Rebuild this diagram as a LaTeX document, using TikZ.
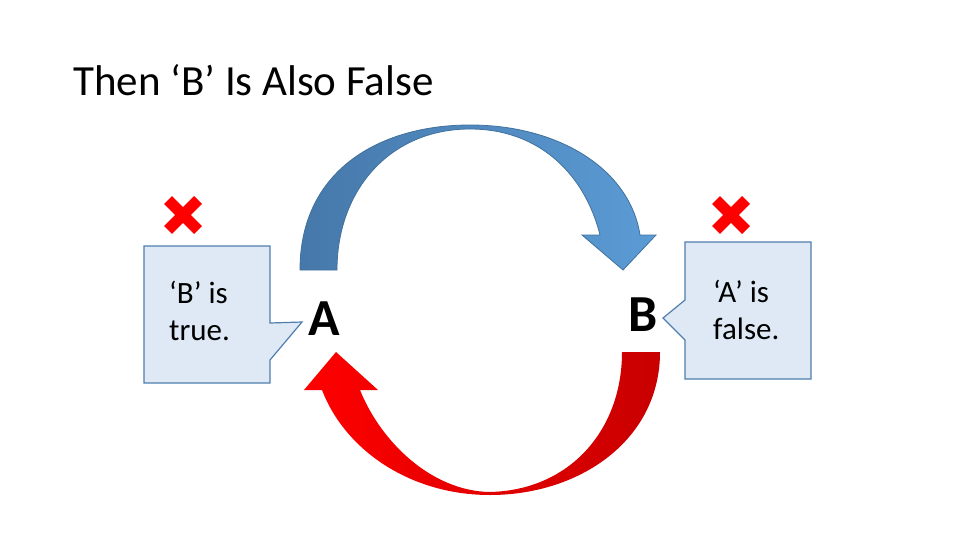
\documentclass[tikz,border=0pt]{standalone}
\usepackage{fontspec}
\setmainfont{Carlito}
\begin{document}
\begin{tikzpicture}[x=1pt,y=-1pt,
  callout/.style={fill=boxfill,draw=boxline,line width=1.2pt},
  lbl/.style={font=\fontsize{31}{37}\selectfont,align=left,inner sep=0pt},
  xmark/.style={draw=red,line width=11pt}]
\definecolor{boxfill}{HTML}{DEE9F5}
\definecolor{boxline}{HTML}{4F7EAE}
\useasboundingbox (0,0) rectangle (960,540);
\node[anchor=west,inner sep=0pt,font=\fontsize{43}{48}\selectfont] (title) at (73,80) {Then ‘B’ Is Also False};
% top arrow
\shade[left color={rgb,255:red,70;green,120;blue,170}, right color={rgb,255:red,91;green,155;blue,213}, draw={rgb,255:red,65;green,113;blue,156}, line width=0.8pt]
 (300,270) .. controls (300,170) and (380,125) .. (470,125) .. controls (560,125) and (630,170) .. (640,235)
 -- (656,235) -- (623,270) -- (582,235) -- (600,235)
 .. controls (585,175) and (540,129) .. (470,129) .. controls (390,129) and (337,190) .. (337,270) -- cycle;
% bottom arrow
\shade[left color=red, right color={rgb,255:red,200;green,0;blue,0}]
 (660,352) .. controls (660,440) and (580,495) .. (490,495) .. controls (410,495) and (345,450) .. (322,390)
 -- (304,390) -- (336,352) -- (378,390) -- (360,390)
 .. controls (380,440) and (430,491) .. (490,492) .. controls (570,490) and (622,430) .. (622,352) -- cycle;
\node[font=\bfseries\fontsize{52}{54}\selectfont,inner sep=0pt] (A) at (324,319) {A};
\node[font=\bfseries\fontsize{52}{54}\selectfont,inner sep=0pt] (B) at (643,315) {B};
% callouts
\draw[callout] (144,246) -- (270,246) -- (270,323) -- (302,322) -- (270,360) -- (270,383) -- (144,383) -- cycle;
\node[lbl,anchor=north west] (lt) at (169,281) {‘B’ is\\true.};
\draw[callout] (685,242) -- (811,242) -- (811,379) -- (685,379) -- (685,340) -- (663,318) -- (685,300) -- cycle;
\node[lbl,anchor=north west] (rt) at (713,280) {‘A’ is\\false.};
% x marks
\foreach \cx/\nm in {183/xl,731/xr}{
  \coordinate (\nm) at (\cx,215);
  \draw[xmark] ([shift={(-15,-15)}]\nm) -- ([shift={(15,15)}]\nm);
  \draw[xmark] ([shift={(-15,15)}]\nm) -- ([shift={(15,-15)}]\nm);
}
\end{tikzpicture}
\end{document}
